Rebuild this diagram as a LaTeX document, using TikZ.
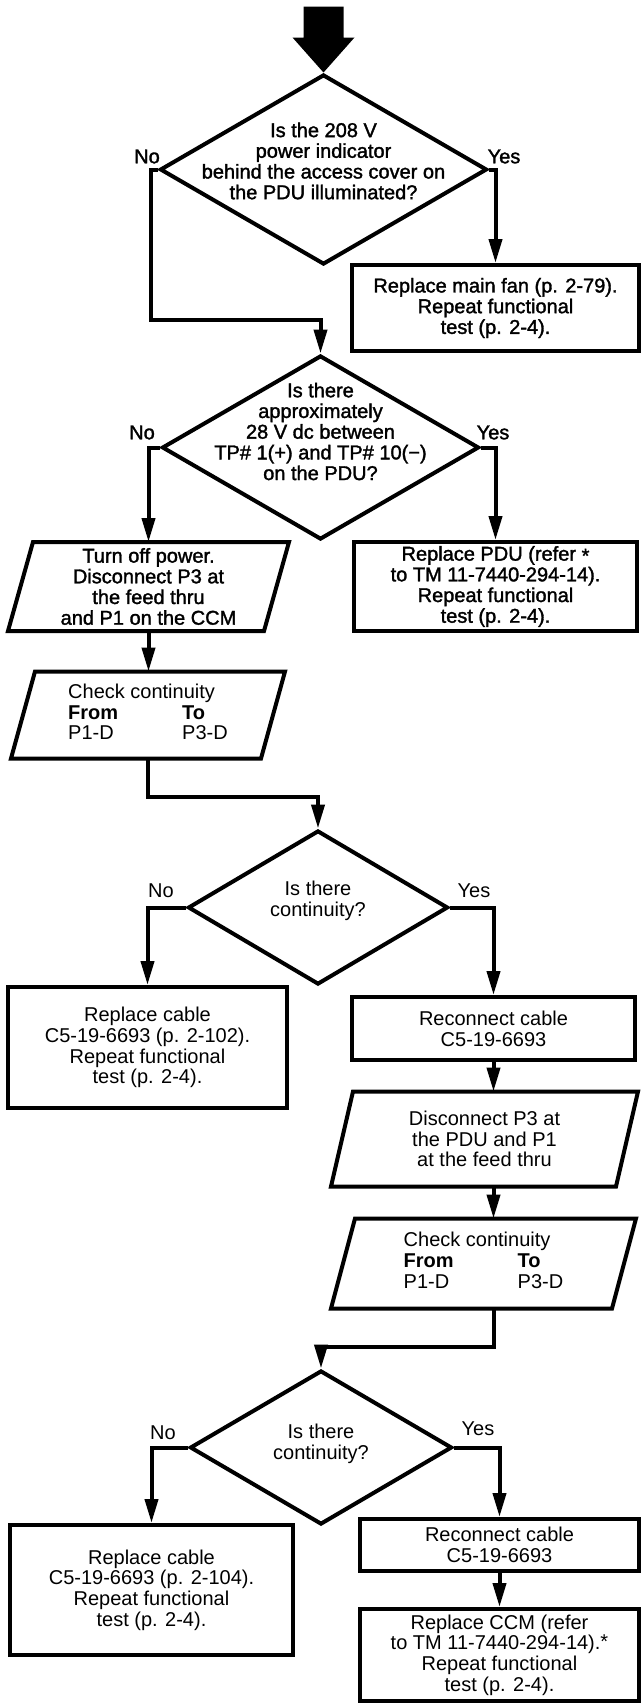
\documentclass[tikz,border=0pt]{standalone}
\usepackage{fontspec}
\setmainfont{Liberation Sans}
\newfontfamily\heavyface{Liberation Sans}[FakeBold=1.6]
\usetikzlibrary{shapes.geometric,arrows.meta}

\newcommand{\fromto}[2]{%
  \begin{tabular}{@{}l@{\hspace{64pt}}l@{}}
    \multicolumn{2}{@{}l@{}}{Check continuity}\\
    \textbf{From} & \textbf{To}\\
    #1 & #2
  \end{tabular}}

\begin{document}
\begin{tikzpicture}[x=1pt,y=-1pt,
  every node/.style={font=\fontsize{20}{20.7}\selectfont},
  heavy/.style={font=\fontsize{20}{20.7}\selectfont\heavyface},
  procbox/.style={draw, rectangle, line width=4pt, inner sep=0pt, align=center},
  iobox/.style={rectangle, inner sep=0pt, outer sep=0pt, align=center},
  iooutline/.style={line width=4pt, line join=miter},
  decision/.style={draw, diamond, line width=4pt, inner sep=0pt},
  qtext/.style={align=center, inner sep=0pt},
  answer/.style={inner sep=0pt},
  flow/.style={line width=4pt, line join=miter,
    -{Triangle[length=24pt,width=13pt]}}]

\useasboundingbox (0,0) rectangle (642,1705);

% decisions
\node[decision, minimum width=327pt, minimum height=190pt] (d1) at (323.5,169.5) {};
\node[qtext, heavy] (d1q) at ([yshift=8.5pt]d1.center)
  {Is the 208 V\\power indicator\\behind the access cover on\\the PDU illuminated?};

\node[decision, minimum width=317pt, minimum height=184pt] (d2) at (320.5,447.5) {};
\node[qtext, heavy] (d2q) at ([yshift=16pt]d2.center)
  {Is there\\approximately\\28 V dc between\\TP\# 1(+) and TP\# 10(−)\\on the PDU?};

\node[decision, minimum width=260pt, minimum height=154pt] (d3) at (318,907.5) {};
\node[qtext] (d3q) at ([yshift=6.5pt]d3.center) {Is there\\continuity?};

\node[decision, minimum width=262pt, minimum height=154pt] (d4) at (321,1447.5) {};
\node[qtext] (d4q) at ([yshift=4pt]d4.center) {Is there\\continuity?};

% actions
\node[procbox, heavy, minimum width=287pt, minimum height=86pt] (b1) at (495.5,308)
  {Replace main fan (p. 2-79).\\Repeat functional\\test (p. 2-4).};
\node[procbox, heavy, minimum width=283pt, minimum height=89pt] (b2) at (495.5,586.5)
  {Replace PDU (refer \raisebox{-2pt}{*}\\to TM 11-7440-294-14).\\Repeat functional\\test (p. 2-4).};
\node[iobox, heavy, minimum width=256pt, minimum height=89pt] (p1) at (148.5,586.5)
  {Turn off power.\\Disconnect P3 at\\the feed thru\\and P1 on the CCM};
\node[iobox, minimum width=250pt, minimum height=87pt] (p2) at (148,715)
  {\fromto{P1-D}{P3-D}};
\node[procbox, minimum width=279pt, minimum height=121pt] (b3) at (147.5,1047.5)
  {Replace cable\\C5-19-6693 (p. 2-102).\\Repeat functional\\test (p. 2-4).};
\node[procbox, minimum width=283pt, minimum height=63pt] (b4) at (493.5,1028.5)
  {Reconnect cable\\C5-19-6693};
\node[iobox, minimum width=285pt, minimum height=95pt] (p3) at (484.5,1139)
  {Disconnect P3 at\\the PDU and P1\\at the feed thru};
\node[iobox, minimum width=281pt, minimum height=90pt] (p4) at (483.5,1263.5)
  {\fromto{P1-D}{P3-D}};
\node[procbox, minimum width=283pt, minimum height=130pt] (b5) at (151.5,1590)
  {Replace cable\\C5-19-6693 (p. 2-104).\\Repeat functional\\test (p. 2-4).};
\node[procbox, minimum width=279pt, minimum height=52pt] (b6) at (499.5,1545)
  {Reconnect cable\\C5-19-6693};
\node[procbox, minimum width=279pt, minimum height=92pt] (b7) at (499.5,1655)
  {Replace CCM (refer\\to TM 11-7440-294-14).\raisebox{1pt}{*}\\Repeat functional\\test (p. 2-4).};

% slanted input/output outlines
\foreach \n/\s in {p1/12.5, p2/12, p3/11, p4/12}
  \draw[iooutline] ([xshift=\s pt]\n.north west) -- ([xshift=\s pt]\n.north east)
    -- ([xshift=-\s pt]\n.south east) -- ([xshift=-\s pt]\n.south west) -- cycle;

% answer labels
\node[answer, heavy] (d1no)  at ([xshift=-11pt,yshift=13pt]d1.west) {No};
\node[answer, heavy] (d1yes) at ([xshift=15pt,yshift=13pt]d1.east) {Yes};
\node[answer, heavy] (d2no)  at ([xshift=-18pt,yshift=15pt]d2.west) {No};
\node[answer, heavy] (d2yes) at ([xshift=12pt,yshift=15pt]d2.east) {Yes};
\node[answer] (d3no)  at ([xshift=-25pt,yshift=17pt]d3.west) {No};
\node[answer] (d3yes) at ([xshift=24pt,yshift=17pt]d3.east) {Yes};
\node[answer] (d4no)  at ([xshift=-25pt,yshift=15pt]d4.west) {No};
\node[answer] (d4yes) at ([xshift=24pt,yshift=19pt]d4.east) {Yes};

% entry arrow
\fill (d1.north) -- ++(-31,-35) -- ++(11,0) -- ++(0,-31) -- ++(40,0)
  -- ++(0,31) -- ++(11,0) -- cycle;

% bend points
\coordinate (j1) at (151,320);
\coordinate (j2) at (318,797);
\coordinate (j3) at (321,1347);

% connectors
\draw[flow] (d1.west) -| (j1) -| (d2.north);
\draw[flow] (d1.east) -| (b1.north);
\draw[flow] (d2.west) -| (p1.north);
\draw[flow] (d2.east) -| (b2.north);
\draw[flow] (p1.south) -- (p1.south |- p2.north);
\draw[flow] (p2.south) |- (j2) -- (d3.north);
\draw[flow] (d3.west) -| (b3.north);
\draw[flow] (d3.east) -| (b4.north);
\draw[flow] (b4.south) -- (b4.south |- p3.north);
\draw[flow] (b4.south |- p3.south) -- (b4.south |- p4.north);
\draw[flow] (b4.south |- p4.south) |- (j3) -- (d4.north);
\draw[flow] (d4.west) -| (b5.north);
\draw[flow] (d4.east) -| (b6.north);
\draw[flow] (b6.south) -- (b7.north);

\end{tikzpicture}
\end{document}
